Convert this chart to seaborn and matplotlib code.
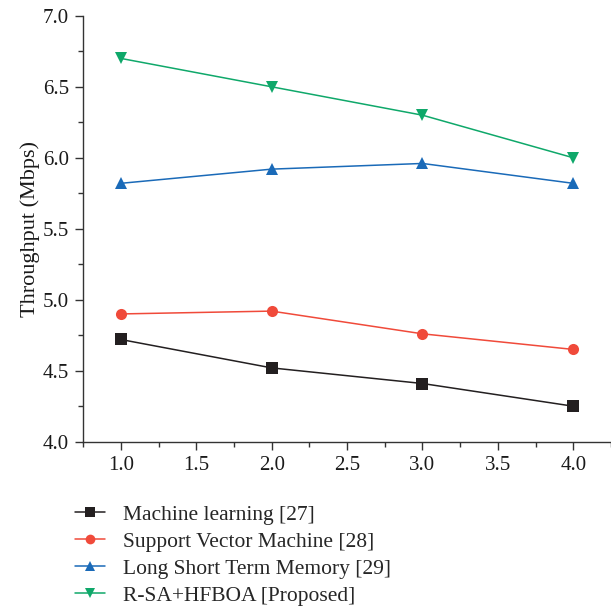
import matplotlib
matplotlib.use("Agg")
import matplotlib.pyplot as plt
from matplotlib.ticker import MultipleLocator
import pandas as pd
import seaborn as sns

# Throughput per configuration step for each method
x_values = [1.0, 2.0, 3.0, 4.0]
series_names = [
    "Machine learning [27]",
    "Support Vector Machine [28]",
    "Long Short Term Memory [29]",
    "R-SA+HFBOA [Proposed]",
]
ml_values = [4.72, 4.52, 4.41, 4.25]
svm_values = [4.90, 4.92, 4.76, 4.65]
lstm_values = [5.82, 5.92, 5.96, 5.82]
proposed_values = [6.70, 6.50, 6.30, 6.00]

colors = ["#231f20", "#f04a3a", "#1a6ab8", "#0fa86a"]
markers = ["s", "o", "^", "v"]

sns.set_theme(style="ticks")
plt.rcParams["font.family"] = ["Liberation Serif", "DejaVu Serif"]

frames = []
for name, vals in zip(series_names, [ml_values, svm_values, lstm_values, proposed_values]):
    frames.append(pd.DataFrame({"x": x_values, "y": vals, "method": name}))
df = pd.concat(frames, ignore_index=True)

fig = plt.figure(figsize=(6.11, 6.08), dpi=100)
ax = fig.add_axes([0.136, 0.2735, 0.864, 0.7005])

sns.lineplot(
    data=df, x="x", y="y", hue="method", style="method",
    hue_order=series_names, style_order=series_names,
    palette=colors, markers=markers, dashes=False,
    markersize=8, linewidth=1.1, markeredgewidth=0,
    ax=ax, legend=True,
)

ax.set_xlim(0.75, 4.25)
ax.set_ylim(4.0, 7.0)
ax.xaxis.set_major_locator(MultipleLocator(0.5))
ax.xaxis.set_minor_locator(MultipleLocator(0.25))
ax.yaxis.set_major_locator(MultipleLocator(0.5))
ax.yaxis.set_minor_locator(MultipleLocator(0.25))
ax.xaxis.set_major_formatter(plt.FormatStrFormatter("%.1f"))
ax.yaxis.set_major_formatter(plt.FormatStrFormatter("%.1f"))

ax.tick_params(axis="both", which="major", direction="out", length=6, width=1,
               labelsize=15, color="#333333", labelcolor="#1a1a1a", pad=4)
ax.tick_params(axis="both", which="minor", direction="out", length=3.5, width=1,
               color="#333333")
for side in ["top", "right"]:
    ax.spines[side].set_visible(False)
for side in ["left", "bottom"]:
    ax.spines[side].set_color("#333333")
    ax.spines[side].set_linewidth(1)

ax.set_xlabel("")
ax.set_ylabel("Throughput (Mbps)", fontsize=16, color="#1a1a1a", labelpad=2)

handles, labels = ax.get_legend_handles_labels()
for h in handles:
    h.set_markersize(7)
ax.get_legend().remove()
fig.legend(
    handles, labels, loc="upper left", bbox_to_anchor=(0.122, 0.170),
    frameon=False, fontsize=15.5, handlelength=1.4, handletextpad=0.85,
    labelspacing=0.32, borderaxespad=0, borderpad=0,
)

fig.savefig("out.png", dpi=100)
